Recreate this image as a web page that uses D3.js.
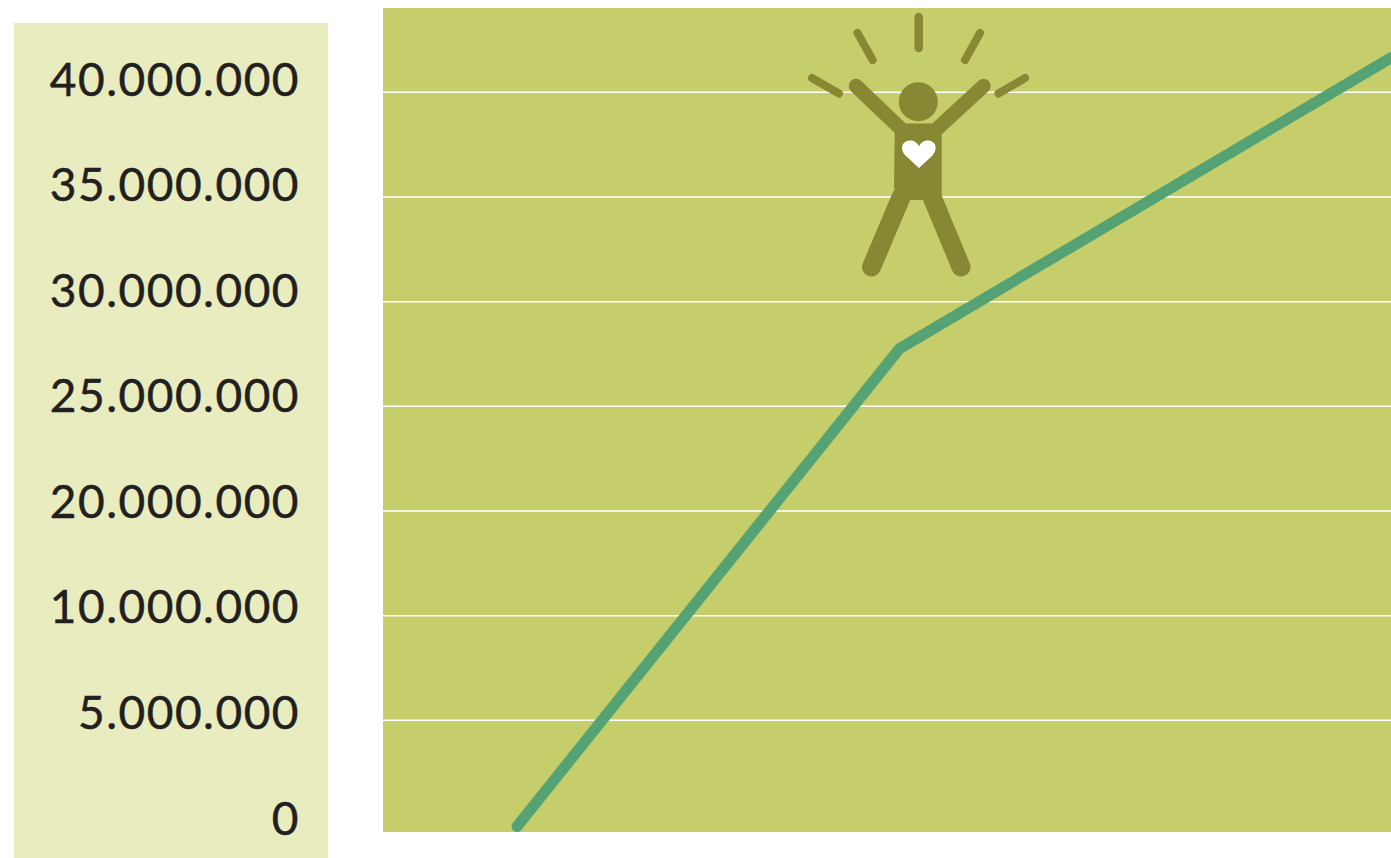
<!DOCTYPE html>
<html>
<head>
<meta charset="utf-8">
<script src="https://d3js.org/d3.v7.min.js"></script>
<style>
  html, body { margin: 0; padding: 0; background: #fff; overflow: hidden; }
  svg { display: block; }
  .label-axis text { font-family: Lato, sans-serif; font-size: 46px; fill: #231f20; stroke: #231f20; stroke-width: 0.5px; }
</style>
</head>
<body>
<div id="chart-container"></div>
<script>
// The axis is not evenly spaced in value: 10M sits right after 5M, then 20M
var tickValues = [0, 5000000, 10000000, 20000000, 25000000, 30000000, 35000000, 40000000];
var tickLabels = ['0', '5.000.000', '10.000.000', '20.000.000', '25.000.000', '30.000.000', '35.000.000', '40.000.000'];

// No x labels in the picture, so these are relative steps
var lineSteps = [0, 7, 16];
var lineValues = [0, 27750000, 41650000];

var width = 1391;
var height = 858;
var plot = {left: 383, right: 1391, top: 8, bottom: 832};
var panel = {left: 14, right: 328, top: 23, bottom: 858};

var svg = d3.select('#chart-container').append('svg')
  .attr('width', width)
  .attr('height', height)
  .attr('viewBox', '0 0 ' + width + ' ' + height);

svg.append('rect')
  .attr('x', panel.left)
  .attr('y', panel.top)
  .attr('width', panel.right - panel.left)
  .attr('height', panel.bottom - panel.top)
  .attr('fill', '#e9ecbf');

svg.append('rect')
  .attr('x', plot.left)
  .attr('y', plot.top)
  .attr('width', plot.right - plot.left)
  .attr('height', plot.bottom - plot.top)
  .attr('fill', '#c6cd6b');

// Piecewise linear: every tick gets the same distance, zero sits a bit lower
var yScale = d3.scaleLinear()
  .domain(tickValues)
  .range(tickValues.map(function(d, i) {
    return i === 0 ? 826.5 : 825 - i * 104.67;
  }));

var xScale = d3.scaleLinear()
  .domain([0, 16])
  .range([517, 1391]);

// Labels are spaced a little wider than the grid
var labelScale = d3.scalePoint()
  .domain(tickLabels)
  .range([834, 95]);

svg.append('g')
  .selectAll('line')
  .data(tickValues.slice(1))
  .enter()
  .append('line')
    .attr('x1', plot.left)
    .attr('x2', plot.right)
    .attr('y1', function(d) { return yScale(d); })
    .attr('y2', function(d) { return yScale(d); })
    .attr('stroke', '#fff')
    .attr('stroke-width', 1.5);

var labelAxis = d3.axisLeft(labelScale).tickSize(0).tickPadding(0);

var labelGroup = svg.append('g')
  .attr('class', 'label-axis')
  .attr('transform', 'translate(300, 0)')
  .call(labelAxis);

labelGroup.select('.domain').remove();
labelGroup.selectAll('text')
  .attr('dy', 0)
  .attr('font-family', null)
  .attr('font-size', null)
  .style('letter-spacing', '1.5px');

var lineGen = d3.line()
  .x(function(d) { return xScale(d.step); })
  .y(function(d) { return yScale(d.value); });

var lineData = lineSteps.map(function(s, i) {
  return {step: s, value: lineValues[i]};
});

svg.append('path')
  .datum(lineData)
  .attr('d', lineGen)
  .attr('fill', 'none')
  .attr('stroke', '#55a275')
  .attr('stroke-width', 11)
  .attr('stroke-linecap', 'round')
  .attr('stroke-linejoin', 'miter');

// Pictogram, drawn in page pixels
var figureColor = '#888834';
var figure = svg.append('g').attr('class', 'figure');

var rays = [
  [918.7, 17, 918.7, 48, 8.5],
  [857.5, 33, 872.7, 60, 8],
  [980, 33, 965, 60, 8],
  [812, 78, 839, 93.5, 8],
  [1025, 78, 998.5, 93.5, 8]
];

figure.selectAll('line.ray')
  .data(rays)
  .enter()
  .append('line')
    .attr('class', 'ray')
    .attr('x1', function(d) { return d[0]; })
    .attr('y1', function(d) { return d[1]; })
    .attr('x2', function(d) { return d[2]; })
    .attr('y2', function(d) { return d[3]; })
    .attr('stroke', figureColor)
    .attr('stroke-width', function(d) { return d[4]; })
    .attr('stroke-linecap', 'round');

var limbs = [
  [856, 86, 900, 128, 14.5],
  [983.5, 86, 938, 128, 14.5],
  [871.5, 267, 902, 195, 19],
  [961, 267, 932, 197, 19]
];

figure.selectAll('line.limb')
  .data(limbs)
  .enter()
  .append('line')
    .attr('class', 'limb')
    .attr('x1', function(d) { return d[0]; })
    .attr('y1', function(d) { return d[1]; })
    .attr('x2', function(d) { return d[2]; })
    .attr('y2', function(d) { return d[3]; })
    .attr('stroke', figureColor)
    .attr('stroke-width', function(d) { return d[4]; })
    .attr('stroke-linecap', 'round');

figure.append('circle')
  .attr('cx', 918.3)
  .attr('cy', 101.8)
  .attr('r', 19.5)
  .attr('fill', figureColor);

figure.append('path')
  .attr('d', 'M905 123.5 L934 123.5 L941.7 134 L941.7 196 L923.5 200 L909 200 L894 188 L894.7 132 Z')
  .attr('fill', figureColor);

figure.append('path')
  .attr('d', 'M919 168 L906 156 C899 149 902 140.5 910.5 140.5 C914.5 140.5 917.5 143 919 146.5 C920.5 143 923.5 140.5 927.5 140.5 C936 140.5 938.5 149 932 156 Z')
  .attr('fill', '#fff');
</script>
</body>
</html>
